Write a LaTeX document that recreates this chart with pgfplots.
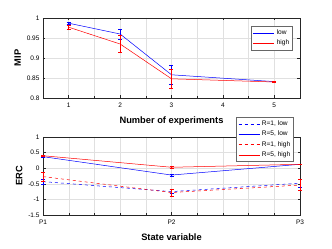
\documentclass[border=0pt]{standalone}
\usepackage{pgfplots}
\pgfplotsset{compat=1.18}
\usepackage{fontspec}
\setmainfont{Liberation Sans}
\definecolor{axgray}{gray}{0.15}
\definecolor{gridgray}{gray}{0.88}
\begin{document}
\begin{tikzpicture}
\path[use as bounding box] (0pt,0pt) rectangle (332pt,249pt);
\pgfplotsset{
  every axis/.append style={
    scale only axis, width=257pt,
    axis line style={axgray, line width=0.4pt},
    tick style={axgray, line width=0.4pt},
    major tick length=2.5pt, minor tick length=1.5pt,
    tick align=inside,
    grid=both,
    major grid style={gridgray, line width=0.4pt},
    minor grid style={gridgray, line width=0.4pt},
    ticklabel style={font=\fontsize{6.5}{7}\selectfont},
    xticklabel style={yshift=-1.5pt},
    /pgf/number format/assume math mode=true,
    label style={font=\fontsize{9.3}{10}\selectfont\bfseries},
    legend style={font=\fontsize{6.6}{7.5}\selectfont, draw=axgray!70, line width=0.6pt, inner xsep=1.5pt, inner ysep=1.5pt, row sep=0pt},
    legend image code/.code={\draw[#1, line width=0.6pt] (0pt,0pt) -- (21pt,0pt);},
    legend cell align=left,
    clip=false,
  },
  eb/.style={error bars/y dir=both, error bars/y explicit,
    error bars/error bar style={#1, solid, line width=0.5pt},
    error bars/error mark=none,
    error bars/draw error bar/.code 2 args={\draw ##1 -- ##2 ++(-2pt,0pt) -- ++(4pt,0pt);}},
}
\begin{axis}[
  at={(43pt,151pt)}, anchor=south west, height=80pt,
  xmin=0.5, xmax=5.5, ymin=0.8, ymax=1,
  xtick={1,2,3,4,5}, minor x tick num=1,
  ytick={0.8,0.85,0.9,0.95,1},
  yticklabels={0.8,0.85,0.9,0.95,1},
  xlabel={Number of experiments}, ylabel={MIP},
  xlabel style={yshift=-2pt}, ylabel style={yshift=-1pt},
  legend style={at={(0.973,0.9)}, anchor=north east},
]
\addplot[blue, line width=0.5pt, mark=none, eb=blue]
 coordinates {(1,0.987) +- (0,0.003) (2,0.960) +- (0,0.013) (3,0.858) +- (0,0.023) (5,0.841) +- (0,0.001)};
\addlegendentry{low}
\addplot[red, line width=0.5pt, mark=none, eb=red]
 coordinates {(1,0.977) +- (0,0.005) (2,0.935) +- (0,0.021) (3,0.848) +- (0,0.024) (5,0.840) +- (0,0.001)};
\addlegendentry{high}
\end{axis}
\begin{axis}[
  at={(43pt,34pt)}, anchor=south west, height=78pt,
  xmin=1, xmax=3, ymin=-1.5, ymax=1,
  xtick={1,2,3}, xticklabels={P1,P2,P3}, minor x tick num=4,
  ytick={-1.5,-1,-0.5,0,0.5,1},
  xlabel={State variable}, ylabel={ERC},
  xlabel style={yshift=-2pt}, ylabel style={yshift=-1pt},
  legend style={at={(0.977,1.256)}, anchor=north east},
]
\addplot[blue, dashed, line width=0.5pt, mark=none, eb=blue]
 coordinates {(1,-0.43) +- (0,0.08) (2,-0.75) +- (0,0.06) (3,-0.48) +- (0,0.14)};
\addlegendentry{R=1, low}
\addplot[blue, line width=0.5pt, mark=none, eb=blue]
 coordinates {(1,0.37) +- (0,0.02) (2,-0.22) +- (0,0.03) (3,0.125) +- (0,0.01)};
\addlegendentry{R=5, low}
\addplot[red, dashed, line width=0.5pt, mark=none, eb=red]
 coordinates {(1,-0.27) +- (0,0.15) (2,-0.78) +- (0,0.11) (3,-0.54) +- (0,0.18)};
\addlegendentry{R=1, high}
\addplot[red, line width=0.5pt, mark=none, eb=red]
 coordinates {(1,0.40) +- (0,0.02) (2,0.03) +- (0,0.03) (3,0.125) +- (0,0.01)};
\addlegendentry{R=5, high}
\end{axis}
\end{tikzpicture}
\end{document}
